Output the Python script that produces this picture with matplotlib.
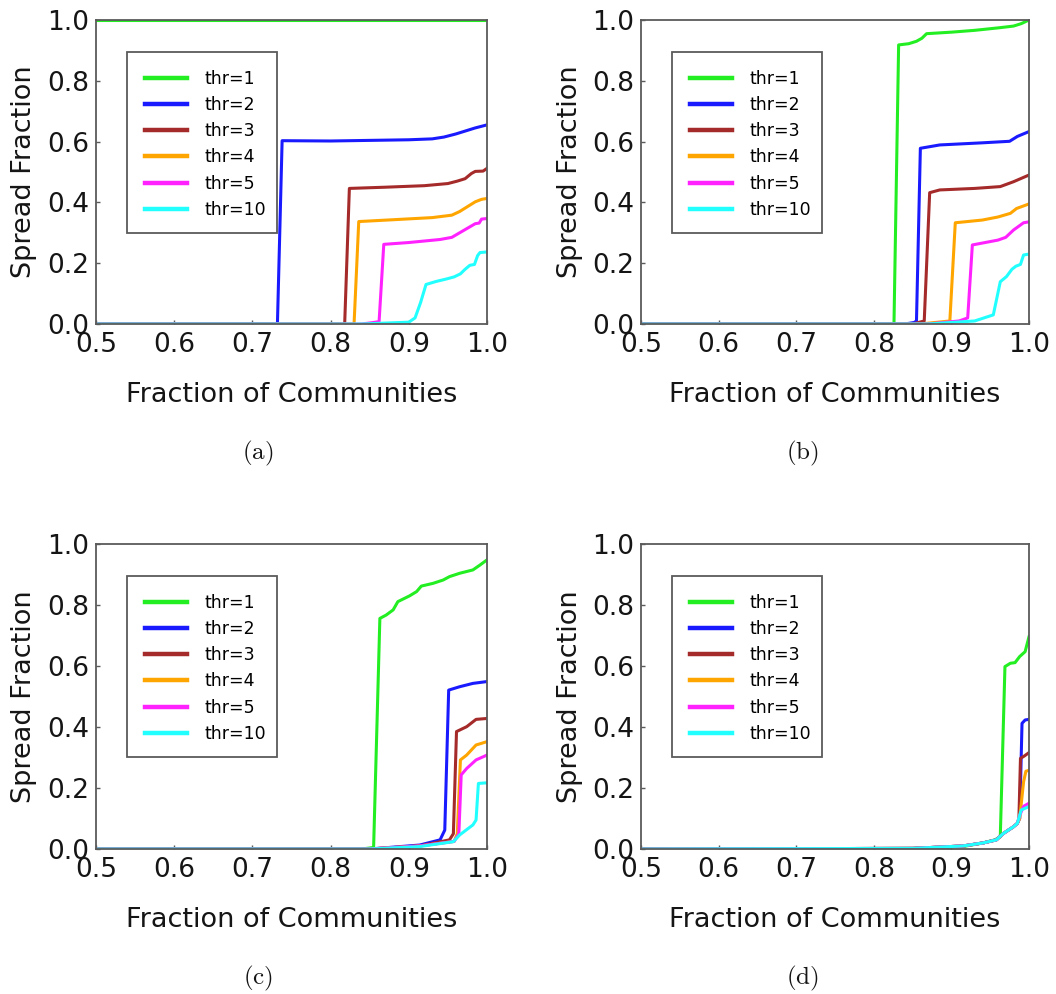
import numpy as np
import matplotlib
matplotlib.use("Agg")
import matplotlib.pyplot as plt
from matplotlib.patches import Rectangle

plt.rcParams["font.family"] = ["DejaVu Sans"]
plt.rcParams["mathtext.fontset"] = "cm"

# ---------------- data ----------------
thresholds = ["thr=1", "thr=2", "thr=3", "thr=4", "thr=5", "thr=10"]
colors = ["#22ee22", "#1a1aff", "#a52a2a", "#ffa500", "#ff22ff", "#22ffff"]
panel_tags = ["(a)", "(b)", "(c)", "(d)"]

x_ticks = [0.5, 0.6, 0.7, 0.8, 0.9, 1.0]
y_ticks = [0.0, 0.2, 0.4, 0.6, 0.8, 1.0]

# panel (a)
a_thr1_x = [0.5, 1.0]
a_thr1_y = [1.0, 1.0]
a_thr2_x = [0.5, 0.732, 0.738, 0.80, 0.85, 0.90, 0.93, 0.945, 0.96, 0.975, 0.985, 1.0]
a_thr2_y = [0.0, 0.0, 0.603, 0.602, 0.604, 0.606, 0.609, 0.615, 0.625, 0.637, 0.645, 0.655]
a_thr3_x = [0.5, 0.818, 0.824, 0.87, 0.92, 0.95, 0.962, 0.972, 0.98, 0.985, 0.995, 1.0]
a_thr3_y = [0.0, 0.0, 0.446, 0.450, 0.455, 0.462, 0.470, 0.478, 0.495, 0.502, 0.503, 0.512]
a_thr4_x = [0.5, 0.830, 0.836, 0.88, 0.93, 0.955, 0.965, 0.975, 0.985, 0.993, 1.0]
a_thr4_y = [0.0, 0.0, 0.337, 0.343, 0.350, 0.358, 0.370, 0.386, 0.402, 0.410, 0.413]
a_thr5_x = [0.5, 0.84, 0.855, 0.862, 0.868, 0.90, 0.94, 0.955, 0.965, 0.975, 0.985, 0.99, 0.993, 1.0]
a_thr5_y = [0.0, 0.0, 0.005, 0.008, 0.262, 0.268, 0.278, 0.285, 0.300, 0.315, 0.330, 0.332, 0.345, 0.347]
a_thr10_x = [0.5, 0.84, 0.90, 0.908, 0.915, 0.922, 0.935, 0.948, 0.958, 0.966, 0.972, 0.978, 0.984, 0.988, 0.991, 1.0]
a_thr10_y = [0.0, 0.0, 0.006, 0.02, 0.07, 0.13, 0.14, 0.148, 0.155, 0.165, 0.180, 0.193, 0.196, 0.225, 0.235, 0.237]

# panel (b)
b_thr1_x = [0.5, 0.826, 0.832, 0.845, 0.855, 0.862, 0.868, 0.90, 0.93, 0.96, 0.98, 0.99, 1.0]
b_thr1_y = [0.0, 0.0, 0.918, 0.922, 0.930, 0.940, 0.955, 0.960, 0.966, 0.974, 0.980, 0.988, 1.0]
b_thr2_x = [0.5, 0.84, 0.852, 0.855, 0.860, 0.885, 0.94, 0.975, 0.985, 1.0]
b_thr2_y = [0.0, 0.0, 0.005, 0.01, 0.578, 0.589, 0.596, 0.601, 0.617, 0.633]
b_thr3_x = [0.5, 0.85, 0.865, 0.872, 0.885, 0.93, 0.963, 0.98, 1.0]
b_thr3_y = [0.0, 0.0, 0.01, 0.432, 0.441, 0.446, 0.452, 0.468, 0.490]
b_thr4_x = [0.5, 0.86, 0.898, 0.905, 0.94, 0.96, 0.976, 0.984, 1.0]
b_thr4_y = [0.0, 0.0, 0.01, 0.333, 0.342, 0.352, 0.364, 0.380, 0.395]
b_thr5_x = [0.5, 0.87, 0.91, 0.921, 0.927, 0.96, 0.97, 0.98, 0.993, 1.0]
b_thr5_y = [0.0, 0.0, 0.01, 0.02, 0.260, 0.276, 0.285, 0.309, 0.333, 0.336]
b_thr10_x = [0.5, 0.87, 0.93, 0.954, 0.963, 0.971, 0.978, 0.983, 0.989, 0.993, 1.0]
b_thr10_y = [0.0, 0.0, 0.01, 0.03, 0.139, 0.156, 0.180, 0.190, 0.196, 0.227, 0.230]

# panel (c)
c_thr1_x = [0.5, 0.84, 0.855, 0.863, 0.871, 0.880, 0.886, 0.901, 0.910, 0.916, 0.931, 0.944, 0.952, 0.965, 0.982, 0.991, 1.0]
c_thr1_y = [0.0, 0.0, 0.005, 0.756, 0.767, 0.784, 0.811, 0.830, 0.844, 0.862, 0.871, 0.882, 0.893, 0.904, 0.915, 0.931, 0.948]
c_thr2_x = [0.5, 0.85, 0.914, 0.940, 0.946, 0.951, 0.965, 0.982, 1.0]
c_thr2_y = [0.0, 0.0, 0.013, 0.03, 0.062, 0.521, 0.532, 0.543, 0.549]
c_thr3_x = [0.5, 0.85, 0.914, 0.952, 0.957, 0.961, 0.974, 0.986, 1.0]
c_thr3_y = [0.0, 0.0, 0.01, 0.03, 0.05, 0.385, 0.401, 0.425, 0.428]
c_thr4_x = [0.5, 0.85, 0.914, 0.958, 0.962, 0.966, 0.974, 0.986, 1.0]
c_thr4_y = [0.0, 0.0, 0.01, 0.025, 0.05, 0.292, 0.308, 0.341, 0.352]
c_thr5_x = [0.5, 0.85, 0.914, 0.958, 0.964, 0.967, 0.974, 0.986, 1.0]
c_thr5_y = [0.0, 0.0, 0.01, 0.025, 0.05, 0.243, 0.264, 0.292, 0.308]
c_thr10_x = [0.5, 0.85, 0.914, 0.957, 0.965, 0.982, 0.986, 0.989, 1.0]
c_thr10_y = [0.0, 0.0, 0.008, 0.024, 0.046, 0.079, 0.095, 0.215, 0.217]

# panel (d): all thresholds share the same slow onset
d_base_x = [0.5, 0.85, 0.915, 0.941, 0.958, 0.967, 0.980, 0.985]
d_base_y = [0.0, 0.002, 0.01, 0.02, 0.03, 0.051, 0.073, 0.084]
d_thr1_x = [0.5, 0.85, 0.915, 0.941, 0.956, 0.963, 0.969, 0.976, 0.982, 0.988, 0.995, 1.0]
d_thr1_y = [0.0, 0.002, 0.008, 0.02, 0.03, 0.04, 0.598, 0.609, 0.611, 0.631, 0.647, 0.696]
d_thr2_tail_x = [0.988, 0.991, 0.995, 1.0]
d_thr2_tail_y = [0.10, 0.412, 0.423, 0.425]
d_thr3_tail_x = [0.987, 0.989, 0.994, 1.0]
d_thr3_tail_y = [0.10, 0.297, 0.305, 0.316]
d_thr4_tail_x = [0.988, 0.993, 0.996, 1.0]
d_thr4_tail_y = [0.10, 0.22, 0.255, 0.258]
d_thr5_tail_x = [0.988, 0.993, 1.0]
d_thr5_tail_y = [0.11, 0.14, 0.15]
d_thr10_tail_x = [0.990, 1.0]
d_thr10_tail_y = [0.128, 0.139]

panels = [
    [(a_thr1_x, a_thr1_y), (a_thr2_x, a_thr2_y), (a_thr3_x, a_thr3_y),
     (a_thr4_x, a_thr4_y), (a_thr5_x, a_thr5_y), (a_thr10_x, a_thr10_y)],
    [(b_thr1_x, b_thr1_y), (b_thr2_x, b_thr2_y), (b_thr3_x, b_thr3_y),
     (b_thr4_x, b_thr4_y), (b_thr5_x, b_thr5_y), (b_thr10_x, b_thr10_y)],
    [(c_thr1_x, c_thr1_y), (c_thr2_x, c_thr2_y), (c_thr3_x, c_thr3_y),
     (c_thr4_x, c_thr4_y), (c_thr5_x, c_thr5_y), (c_thr10_x, c_thr10_y)],
    [(d_thr1_x, d_thr1_y)] + [
        (d_base_x + tx, d_base_y + ty) for tx, ty in [
            (d_thr2_tail_x, d_thr2_tail_y), (d_thr3_tail_x, d_thr3_tail_y),
            (d_thr4_tail_x, d_thr4_tail_y), (d_thr5_tail_x, d_thr5_tail_y),
            (d_thr10_tail_x, d_thr10_tail_y)]],
]

# ---------------- layout ----------------
W, H = 1056, 994
fig = plt.figure(figsize=(W / 100, H / 100), dpi=100)

# axes boxes in pixels: left, top, right, bottom
boxes = [(96, 20, 487, 324), (641, 20, 1029, 324),
         (96, 544, 487, 849), (641, 544, 1029, 849)]
tag_pos = [(258, 453), (802, 453), (258, 978), (802, 978)]

spine_col = "#5a5a5a"
text_col = "#151515"

for series, (l, t, r, b), tag, (tx, ty) in zip(panels, boxes, panel_tags, tag_pos):
    aw, ah = r - l, b - t
    ax = fig.add_axes([l / W, 1 - b / H, aw / W, ah / H])
    for (xs, ys), lab, col in zip(series, thresholds, colors):
        ax.plot(xs, ys, color=col, lw=2.2, label=lab, solid_joinstyle="round")
    ax.set_xlim(0.5, 1.0)
    ax.set_ylim(0.0, 1.0)
    ax.set_xticks(x_ticks)
    ax.set_yticks(y_ticks)
    ax.set_xticklabels([f"{v:.1f}" for v in x_ticks])
    ax.set_yticklabels([f"{v:.1f}" for v in y_ticks])
    ax.tick_params(direction="in", length=3, width=1, colors=spine_col,
                   labelcolor=text_col, labelsize=19)
    ax.tick_params(axis="x", pad=6)
    ax.tick_params(axis="y", pad=5)
    for s in ax.spines.values():
        s.set_color(spine_col)
        s.set_linewidth(1.3)
    ax.set_xlabel("Fraction of Communities", fontsize=19.5, color=text_col)
    ax.set_ylabel("Spread Fraction", fontsize=19.5, color=text_col)
    ax.xaxis.set_label_coords(0.5, -0.19)
    ax.yaxis.set_label_coords(-0.15, 0.5)

    # legend box (offsets in pixels from the axes' top-left corner)
    frame = Rectangle((31 / aw, 1 - 213 / ah), 150 / aw, 181 / ah,
                      transform=ax.transAxes, facecolor="white",
                      edgecolor=spine_col, linewidth=1.3, zorder=4)
    ax.add_patch(frame)
    leg = ax.legend(loc="upper left", bbox_to_anchor=(49 / aw, 1 - 50 / ah),
                    fontsize=12.5, frameon=False,
                    handlelength=2.4, handletextpad=1.03, borderpad=0.0,
                    labelspacing=0.47, borderaxespad=0.0)
    leg.set_zorder(5)
    for h in leg.get_lines():
        h.set_linewidth(3.2)
    fig.text(tx / W, 1 - ty / H, r"$\mathrm{" + tag + "}$", fontsize=18,
             ha="center", va="center", color=text_col)

fig.savefig("out.png", dpi=100, facecolor="white")
